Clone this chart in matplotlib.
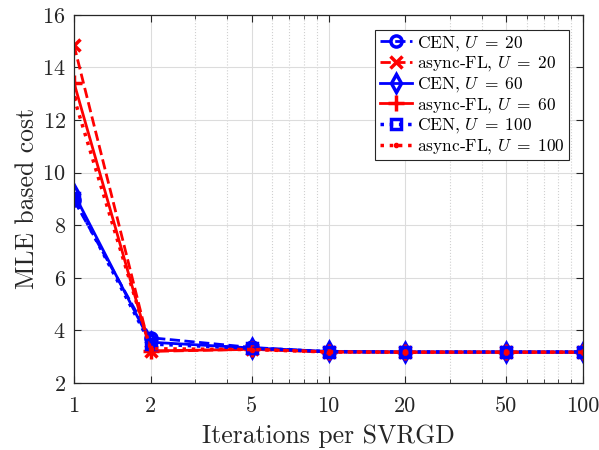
import matplotlib
matplotlib.use("Agg")
import matplotlib.pyplot as plt
from matplotlib.ticker import FixedLocator, NullFormatter, LogLocator

plt.rcParams['font.family'] = ['cmr10', 'DejaVu Serif']
plt.rcParams['mathtext.fontset'] = 'cm'
plt.rcParams['axes.formatter.use_mathtext'] = True

iters = [1, 2, 5, 10, 20, 50, 100]
cen_u20 = [8.95, 3.72, 3.35, 3.18, 3.17, 3.17, 3.17]
fl_u20 = [14.85, 3.2, 3.28, 3.18, 3.17, 3.17, 3.17]
cen_u60 = [9.2, 3.55, 3.33, 3.2, 3.18, 3.18, 3.18]
fl_u60 = [13.42, 3.22, 3.28, 3.18, 3.17, 3.17, 3.17]
cen_u100 = [9.05, 3.48, 3.32, 3.19, 3.18, 3.18, 3.18]
fl_u100 = [12.85, 3.3, 3.27, 3.18, 3.17, 3.17, 3.17]

fig = plt.figure(figsize=(5.99, 4.5), dpi=100)
ax = fig.add_axes([0.1235, 0.149, 0.85, 0.818])

lw = 2
ax.plot(iters, cen_u20, color='blue', ls='--', lw=lw, marker='o', ms=8, mfc='none', mew=2.5, label=r'CEN, $U \;=\; 20$')
ax.plot(iters, fl_u20, color='red', ls='--', lw=lw, marker='x', ms=8, mew=2.5, label=r'async-FL, $U \;=\; 20$')
ax.plot(iters, cen_u60, color='blue', ls='-', lw=lw, marker='d', ms=9, mfc='none', mew=2.5, label=r'CEN, $U \;=\; 60$')
ax.plot(iters, fl_u60, color='red', ls='-', lw=lw, marker='+', ms=11, mew=2.5, label=r'async-FL, $U \;=\; 60$')
ax.plot(iters, cen_u100, color='blue', ls=':', lw=lw + 0.5, marker='s', ms=7, mfc='none', mew=2.5, label=r'CEN, $U \;=\; 100$')
ax.plot(iters, fl_u100, color='red', ls=':', lw=lw + 0.5, marker='.', ms=6, label=r'async-FL, $U \;=\; 100$')

ax.set_xscale('log')
ax.set_xlim(1, 100)
ax.set_ylim(2, 16)
ax.xaxis.set_major_locator(FixedLocator(iters))
ax.set_xticklabels([str(v) for v in iters])
ax.xaxis.set_minor_locator(LogLocator(base=10, subs=range(2, 10)))
ax.xaxis.set_minor_formatter(NullFormatter())
ax.set_yticks(range(2, 17, 2))

ax.grid(True, which='major', color='#dcdcdc', lw=0.8)
ax.grid(True, which='minor', axis='x', color='#d0d0d0', ls=':', lw=0.8)
ax.set_axisbelow(True)

ax.tick_params(which='both', direction='in', top=True, right=True, labelsize=16, colors='#262626')
ax.tick_params(which='major', length=5, width=0.8)
ax.tick_params(which='minor', length=3, width=0.6)
ax.tick_params(axis='x', pad=10)
ax.tick_params(axis='y', pad=6)
for s in ax.spines.values():
    s.set_color('#262626')
    s.set_linewidth(0.9)

ax.set_xlabel('Iterations per SVRGD', fontsize=18.5, color='#262626', labelpad=6)
ax.set_ylabel('MLE based cost', fontsize=18.5, color='#262626', labelpad=2)

leg = ax.legend(loc='upper right', bbox_to_anchor=(0.972, 0.96), fontsize=12.5, frameon=True,
                fancybox=False, edgecolor='#262626', framealpha=1, handlelength=1.9,
                handletextpad=0.25, borderpad=0.25, labelspacing=0.1, borderaxespad=0)
leg.get_frame().set_linewidth(0.8)

fig.savefig('out.png', dpi=100)
